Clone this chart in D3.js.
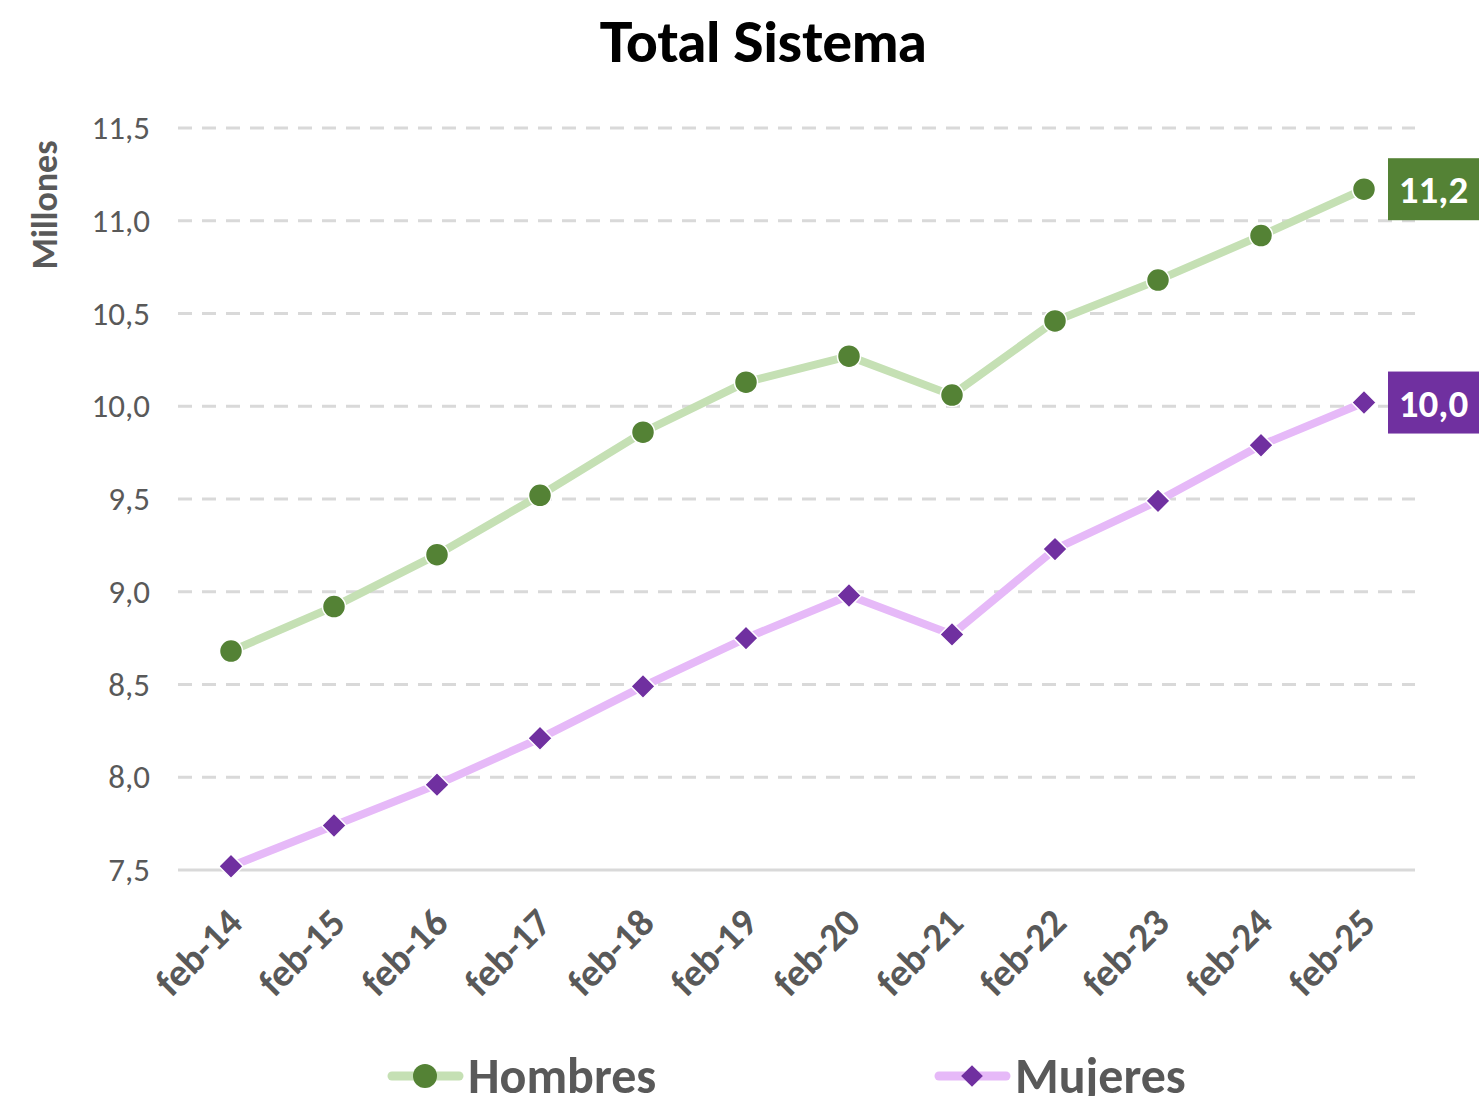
<!DOCTYPE html>
<html>
<head>
<meta charset="utf-8">
<script src="https://cdn.jsdelivr.net/npm/d3@7"></script>
<style>
  body { margin: 0; background: #fff; }
  svg { display: block; }
</style>
</head>
<body>
<script>
var categories = ["feb-14","feb-15","feb-16","feb-17","feb-18","feb-19","feb-20","feb-21","feb-22","feb-23","feb-24","feb-25"];
var hombres = [8.68, 8.92, 9.20, 9.52, 9.86, 10.13, 10.27, 10.06, 10.46, 10.68, 10.92, 11.17];
var mujeres = [7.52, 7.74, 7.96, 8.21, 8.49, 8.75, 8.98, 8.77, 9.23, 9.49, 9.79, 10.02];
var yTicks = [7.5, 8.0, 8.5, 9.0, 9.5, 10.0, 10.5, 11.0, 11.5];

var width = 1483, height = 1096;
var svg = d3.select("body").append("svg")
    .attr("width", width)
    .attr("height", height);

var font = "Calibri, Carlito, 'Open Sans', 'Liberation Sans', sans-serif";

var x = d3.scalePoint()
    .domain(categories)
    .range([231, 1364]);

var y = d3.scaleLinear()
    .domain([7.5, 11.5])
    .range([870, 128]);

var fmt = function(d) { return d3.format(".1f")(d).replace(".", ","); };

// title
svg.append("text")
    .attr("x", 763)
    .attr("y", 62)
    .attr("text-anchor", "middle")
    .style("font-family", "'Century Gothic', Lato, 'DejaVu Sans', sans-serif")
    .style("font-weight", 900)
    .style("font-size", "55px")
    .attr("fill", "#000")
    .text("Total Sistema");

// gridlines
svg.append("g")
    .selectAll("line")
    .data(yTicks.slice(1))
    .join("line")
    .attr("x1", 178)
    .attr("x2", 1415)
    .attr("y1", d => y(d))
    .attr("y2", d => y(d))
    .attr("stroke", "#d9d9d9")
    .attr("stroke-width", 3)
    .attr("stroke-dasharray", "14,10");

// y axis
var yAxis = svg.append("g")
    .attr("transform", "translate(178,0)")
    .call(d3.axisLeft(y).tickValues(yTicks).tickFormat(fmt).tickSize(0).tickPadding(28));
yAxis.select(".domain").remove();
yAxis.selectAll("text")
    .style("font-family", font)
    .style("font-size", "33px")
    .attr("fill", "#595959");

// x axis
var xAxis = svg.append("g")
    .attr("transform", "translate(0," + y(7.5) + ")")
    .call(d3.axisBottom(x).tickSize(0).tickPadding(0));
xAxis.select(".domain")
    .attr("d", "M178,0H1415")
    .attr("stroke", "#d9d9d9")
    .attr("stroke-width", 3);
xAxis.selectAll("text")
    .style("font-family", font)
    .style("font-size", "39px")
    .style("font-weight", "bold")
    .attr("fill", "#595959")
    .attr("text-anchor", "end")
    .attr("dy", 0)
    .attr("transform", "translate(13,55) rotate(-45)");

// y title
svg.append("text")
    .attr("transform", "translate(57,205) rotate(-90)")
    .attr("text-anchor", "middle")
    .style("font-family", font)
    .style("font-weight", "bold")
    .style("font-size", "36px")
    .attr("fill", "#595959")
    .text("Millones");

var line = d3.line()
    .x((d, i) => x(categories[i]))
    .y(d => y(d));

// Hombres
svg.append("path")
    .datum(hombres)
    .attr("d", line)
    .attr("fill", "none")
    .attr("stroke", "#c5e0b4")
    .attr("stroke-width", 8);
svg.append("g")
    .selectAll("circle")
    .data(hombres)
    .join("circle")
    .attr("cx", (d, i) => x(categories[i]))
    .attr("cy", d => y(d))
    .attr("r", 11.5)
    .attr("fill", "#548235")
    .attr("stroke", "#fff")
    .attr("stroke-width", 1.5);

// Mujeres
svg.append("path")
    .datum(mujeres)
    .attr("d", line)
    .attr("fill", "none")
    .attr("stroke", "#e6b9f8")
    .attr("stroke-width", 8);
var diamond = d3.symbol().type(d3.symbolDiamond2).size(380);
svg.append("g")
    .selectAll("path")
    .data(mujeres)
    .join("path")
    .attr("d", diamond)
    .attr("transform", (d, i) => "translate(" + x(categories[i]) + "," + y(d) + ")")
    .attr("fill", "#7030a0")
    .attr("stroke", "#fff")
    .attr("stroke-width", 1.5);

// end labels
var ends = [
  { v: hombres[hombres.length - 1], color: "#548235" },
  { v: mujeres[mujeres.length - 1], color: "#7030a0" }
];
var lab = svg.append("g").selectAll("g")
    .data(ends)
    .join("g")
    .attr("transform", d => "translate(1388," + y(d.v) + ")");
lab.append("rect")
    .attr("x", 0)
    .attr("y", -31)
    .attr("width", 91)
    .attr("height", 62)
    .attr("fill", d => d.color);
lab.append("text")
    .attr("x", 45.5)
    .attr("y", 14)
    .attr("text-anchor", "middle")
    .style("font-family", font)
    .style("font-weight", "bold")
    .style("font-size", "39px")
    .attr("fill", "#fff")
    .text(d => fmt(Math.round(d.v * 10) / 10));

// legend
var legend = [
  { name: "Hombres", x: 388, line: "#c5e0b4", mark: "#548235", shape: "circle" },
  { name: "Mujeres", x: 935, line: "#e6b9f8", mark: "#7030a0", shape: "diamond" }
];
var lg = svg.append("g").selectAll("g")
    .data(legend)
    .join("g")
    .attr("transform", d => "translate(" + d.x + ",1076)");
lg.append("line")
    .attr("x1", 4).attr("x2", 71)
    .attr("y1", 0).attr("y2", 0)
    .attr("stroke", d => d.line)
    .attr("stroke-width", 9)
    .attr("stroke-linecap", "round");
lg.filter(d => d.shape === "circle").append("circle")
    .attr("cx", 37).attr("cy", 0).attr("r", 12)
    .attr("fill", d => d.mark);
lg.filter(d => d.shape === "diamond").append("path")
    .attr("d", d3.symbol().type(d3.symbolDiamond2).size(300))
    .attr("transform", "translate(37,0)")
    .attr("fill", d => d.mark);
lg.append("text")
    .attr("x", 80)
    .attr("y", 17)
    .style("font-family", font)
    .style("font-weight", "bold")
    .style("font-size", "50px")
    .attr("fill", "#595959")
    .text(d => d.name);
</script>
</body>
</html>
